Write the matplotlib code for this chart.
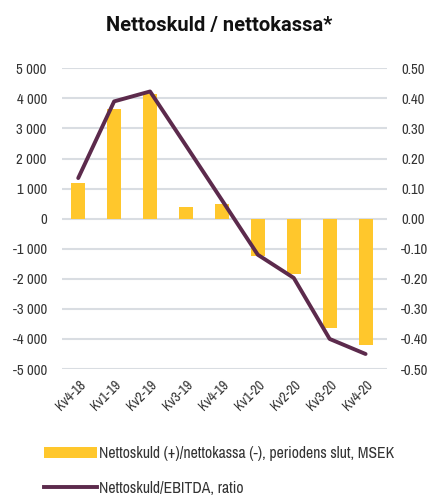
import matplotlib
matplotlib.use("Agg")
import matplotlib.pyplot as plt
from matplotlib.patches import Patch
from matplotlib.lines import Line2D

categories = ["Kv4-18", "Kv1-19", "Kv2-19", "Kv3-19", "Kv4-19", "Kv1-20", "Kv2-20", "Kv3-20", "Kv4-20"]
net_debt = [1200, 3650, 4150, 400, 500, -1250, -1850, -3650, -4200]
ratio = [0.135, 0.39, 0.423, 0.243, 0.062, -0.12, -0.197, -0.40, -0.45]
left_ticks = [5000, 4000, 3000, 2000, 1000, 0, -1000, -2000, -3000, -4000, -5000]
right_ticks = [0.5, 0.4, 0.3, 0.2, 0.1, 0.0, -0.1, -0.2, -0.3, -0.4, -0.5]
title = "Nettoskuld / nettokassa*"
bar_label = "Nettoskuld (+)/nettokassa (-), periodens slut, MSEK"
line_label = "Nettoskuld/EBITDA, ratio"

plt.rcParams['font.family'] = ['Archivo Narrow', 'Liberation Sans', 'DejaVu Sans']
bar_color = "#FFC72C"
line_color = "#5C2A4C"
grid_color = "#D9DDE2"
text_color = "#333333"

fig = plt.figure(figsize=(4.34, 4.95), dpi=100)
ax = fig.add_axes([0.143, 0.2545, 0.749, 0.6075])
x = list(range(len(categories)))
ax.bar(x, net_debt, width=0.39, color=bar_color, zorder=2)
ax.set_ylim(-5000, 5000)
ax.set_xlim(-0.45, 8.6)
ax.set_yticks(left_ticks)
ax.set_yticklabels([f"{v:,}".replace(",", " ") for v in left_ticks])
for t in left_ticks:
    ax.axhline(t, color=grid_color, lw=1.5, zorder=0)
for s in ax.spines.values():
    s.set_visible(False)
ax.tick_params(axis='both', length=0, labelsize=10.5, colors=text_color)
ax.tick_params(axis='y', pad=11)
ax.set_xticks(x)
ax.set_xticklabels(categories, rotation=45, ha='right', rotation_mode='anchor')
ax.tick_params(axis='x', pad=6, labelsize=10)

ax2 = ax.twinx()
ax2.plot(x, ratio, color=line_color, lw=2.8, solid_capstyle='round', zorder=3)
ax2.set_ylim(-0.5, 0.5)
ax2.set_yticks(right_ticks)
ax2.set_yticklabels([f"{v:.2f}" for v in right_ticks])
for s in ax2.spines.values():
    s.set_visible(False)
ax2.tick_params(axis='y', length=0, labelsize=10.5, colors=text_color, pad=10)

fig.text(0.505, 0.948, title, ha='center', va='center', fontsize=14.5, fontweight='bold', color='#111111',
         family=['Roboto', 'DejaVu Sans'])

handles = [Patch(facecolor=bar_color, edgecolor='none'), Line2D([0], [0], color=line_color, lw=2.8)]
fig.legend(handles, [bar_label, line_label], loc='upper left', bbox_to_anchor=(0.102, 0.099),
           frameon=False, fontsize=11.3, handlelength=3.35, handleheight=0.7, handletextpad=0.15,
           labelspacing=1.25, labelcolor=text_color, borderaxespad=0, borderpad=0)
fig.savefig("out.png", dpi=100)
